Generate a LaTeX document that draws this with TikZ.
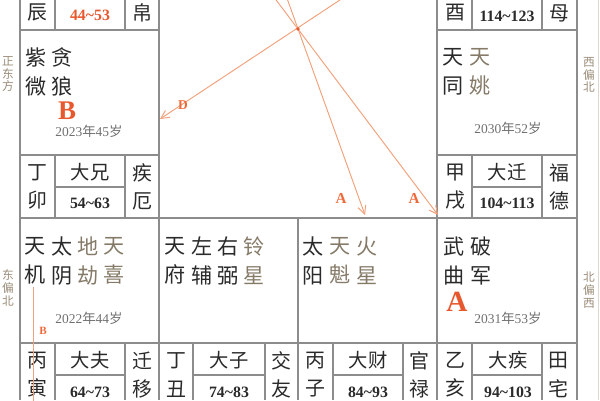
\documentclass[tikz,border=0pt]{standalone}
\usepackage{fontspec}
\setmainfont{Liberation Serif}
\newfontfamily\cjk{Noto Sans CJK SC}
\usetikzlibrary{arrows.meta}
\definecolor{gridc}{HTML}{8C8C8C}
\definecolor{stripc}{HTML}{DDD8CF}
\definecolor{starc}{HTML}{2A2A2A}
\definecolor{minorc}{HTML}{857A68}
\definecolor{agec}{HTML}{707070}
\definecolor{hotc}{HTML}{E8582E}
\definecolor{arrowc}{HTML}{F2A07A}
\definecolor{tagc}{HTML}{EE6A3A}
\definecolor{dirc}{HTML}{9A8C78}
\tikzset{
    grid/.style = {draw=gridc, line width=0.9pt},
    mainstar/.style = {inner sep=0pt, align=center, text=starc, font=\cjk\fontsize{18}{24.5}\selectfont},
    minorstar/.style = {mainstar, text=minorc},
    gz/.style = {inner sep=0pt, align=center, text=starc, font=\cjk\fontsize{17}{24}\selectfont},
    dax/.style = {inner sep=0pt, text=starc, font=\cjk\fontsize{16.5}{20}\selectfont},
    rng/.style = {inner sep=0pt, text=starc, font=\bfseries\fontsize{13.5}{16}\selectfont},
    agetext/.style = {inner sep=0pt, text=agec, font=\fontsize{11.5}{14}\selectfont},
    bigtag/.style = {inner sep=0pt, text=hotc, font=\bfseries\fontsize{25}{28}\selectfont},
    tagtext/.style = {inner sep=0pt, text=tagc, font=\bfseries\fontsize{13}{15}\selectfont},
    dirtext/.style = {inner sep=0pt, align=center, text=dirc, font=\cjk\fontsize{10}{10.8}\selectfont},
    edgeo/.style = {-{Straight Barb[length=7pt,width=7pt]}, draw=arrowc, line width=0.8pt},
    lineo/.style = {draw=arrowc, line width=0.8pt}
}
\newcommand{\agelabel}[2]{#1{\cjk 年}#2{\cjk 岁}}

\begin{document}
\begin{tikzpicture}[x=0.03cm,y=-0.03cm]
\useasboundingbox (0,0) rectangle (600,400);
\clip (0,0) rectangle (600,400);
% frame
\draw[draw=stripc, line width=0.8pt] (598,0) -- (598,400);
\draw[grid] (20,0) -- (20,400) (159,0) -- (159,400) (437,0) -- (437,400) (577,0) -- (577,400);
\draw[grid] (20,30) -- (159,30) (437,30) -- (577,30);
\draw[grid] (20,155) -- (159,155) (437,155) -- (577,155);
\draw[grid] (20,218) -- (577,218) (20,343) -- (577,343) (298,218) -- (298,400);
\draw[grid] (55,0) -- (55,30) (125,0) -- (125,30) (472,0) -- (472,30) (542,0) -- (542,30);
\draw[grid] (55,155) -- (55,218) (125,155) -- (125,218) (472,155) -- (472,218) (542,155) -- (542,218);
\draw[grid] (55,187) -- (125,187) (472,187) -- (542,187);
\draw[grid] (55,343) -- (55,400) (125,343) -- (125,400) (193,343) -- (193,400) (265,343) -- (265,400);
\draw[grid] (333,343) -- (333,400) (403,343) -- (403,400) (472,343) -- (472,400) (542,343) -- (542,400);
\draw[grid] (55,375) -- (125,375) (193,375) -- (265,375) (333,375) -- (403,375) (472,375) -- (542,375);
%
\node[dirtext] (dirE) at (8,74) {正\\东\\方};
\node[dirtext] (dirEN) at (8,288) {东\\偏\\北};
\node[dirtext] (dirWN) at (589,75) {西\\偏\\北};
\node[dirtext] (dirNW) at (589,290) {北\\偏\\西};
%
\node[gz] (chen) at (37,13) {辰};
\node[rng, text=hotc] (chenR) at (90,15) {44\textasciitilde53};
\node[gz] (chenG) at (142,13) {帛};
\node[gz] (you) at (455,13) {酉};
\node[rng] (youR) at (507,16) {114\textasciitilde123};
\node[gz] (youG) at (559,13) {母};
%
\node[mainstar] (ziwei) at (36,72) {紫\\微};
\node[mainstar] (tanlang) at (62,72) {贪\\狼};
\node[bigtag, font=\bfseries\fontsize{23}{26}\selectfont] (tagB) at (67,111) {B};
\node[agetext] (ageMao) at (89,131) {\agelabel{2023}{45}};
\node[gz] (mao) at (37,187) {丁\\卯};
\node[dax] (maoD) at (90,172) {大兄};
\node[rng] (maoR) at (90,203) {54\textasciitilde63};
\node[gz] (maoG) at (142,187) {疾\\厄};
%
\node[mainstar] (tiantong) at (453,72) {天\\同};
\node[minorstar] (tianyao) at (480,72) {天\\姚};
\node[agetext] (ageXu) at (508,128) {\agelabel{2030}{52}};
\node[gz] (xu) at (455,187) {甲\\戌};
\node[dax] (xuD) at (507,172) {大迁};
\node[rng] (xuR) at (507,203) {104\textasciitilde113};
\node[gz] (xuG) at (559,187) {福\\德};
%
\node[mainstar] (tianji) at (35,261) {天\\机};
\node[mainstar] (taiyin) at (62,261) {太\\阴};
\node[minorstar] (dijie) at (88,261) {地\\劫};
\node[minorstar] (tianxi) at (114,261) {天\\喜};
\node[agetext] (ageYin) at (89,318) {\agelabel{2022}{44}};
\node[gz] (yin) at (37,375) {丙\\寅};
\node[dax] (yinD) at (90,360) {大夫};
\node[rng] (yinR) at (90,392) {64\textasciitilde73};
\node[gz] (yinG) at (142,375) {迁\\移};
%
\node[mainstar] (tianfu) at (175,261) {天\\府};
\node[mainstar] (zuofu) at (202,261) {左\\辅};
\node[mainstar] (youbi) at (228,261) {右\\弼};
\node[minorstar] (lingxing) at (254,261) {铃\\星};
\node[gz] (chou) at (176,375) {丁\\丑};
\node[dax] (chouD) at (229,360) {大子};
\node[rng] (chouR) at (229,392) {74\textasciitilde83};
\node[gz] (chouG) at (281,375) {交\\友};
%
\node[mainstar] (taiyang) at (313,261) {太\\阳};
\node[minorstar] (tiankui) at (340,261) {天\\魁};
\node[minorstar] (huoxing) at (367,261) {火\\星};
\node[gz] (zi) at (315,375) {丙\\子};
\node[dax] (ziD) at (368,360) {大财};
\node[rng] (ziR) at (368,392) {84\textasciitilde93};
\node[gz] (ziG) at (419,375) {官\\禄};
%
\node[mainstar] (wuqu) at (454,261) {武\\曲};
\node[mainstar] (pojun) at (481,261) {破\\军};
\node[bigtag] (tagA) at (457,302) {A};
\node[agetext] (ageHai) at (508,318) {\agelabel{2031}{53}};
\node[gz] (hai) at (455,375) {乙\\亥};
\node[dax] (haiD) at (508,360) {大疾};
\node[rng] (haiR) at (508,392) {94\textasciitilde103};
\node[gz] (haiG) at (558,375) {田\\宅};
%
\coordinate (srcD) at (355,-10);
\coordinate (srcA1) at (284,-10);
\coordinate (srcA2) at (268.6,-10);
\coordinate (tipD) at (160,119);
\coordinate (tipA1) at (365,215);
\coordinate (tipA2) at (438,215);
\coordinate (bTop) at (33,287);
\coordinate (bEnd) at (33,410);
\draw[edgeo] (srcD) -- (tipD);
\draw[edgeo] (srcA1) -- (tipA1);
\draw[edgeo] (srcA2) -- (tipA2);
\draw[lineo] (bTop) -- (bEnd);
\node[circle, fill=hotc, inner sep=1.2pt] (hub) at (298,29) {};
\node[tagtext, font=\bfseries\fontsize{11.5}{14}\selectfont] (tagD) at (183,105) {D};
\node[tagtext] (tagA1) at (341,198) {A};
\node[tagtext] (tagA2) at (414,198) {A};
\node[tagtext, font=\bfseries\fontsize{9.5}{11}\selectfont] (tagB2) at (43,331) {B};
\end{tikzpicture}
\end{document}
